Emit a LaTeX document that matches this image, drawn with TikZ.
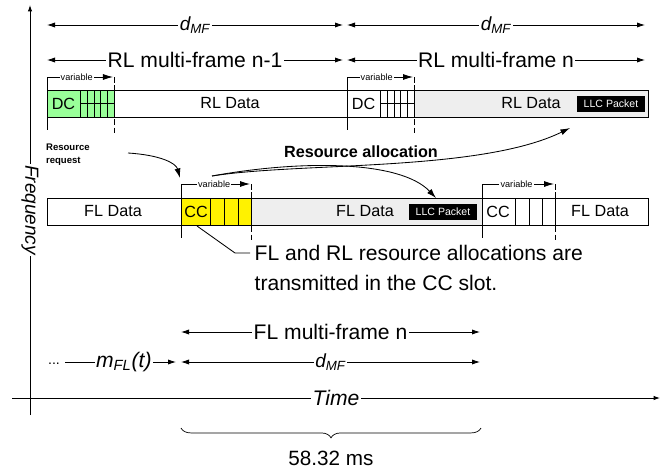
\documentclass[tikz,border=0pt]{standalone}
\usepackage{fontspec}
\setmainfont{Liberation Sans}
\usetikzlibrary{arrows.meta,decorations.pathreplacing}

\definecolor{dcgreen}{RGB}{153,255,153}
\definecolor{datagray}{RGB}{238,238,238}

\begin{document}
\begin{tikzpicture}[x=0.025cm, y=-0.025cm, line width=0.6pt,
    big/.style={font=\fontsize{15}{17}\selectfont},
    mid/.style={font=\fontsize{11.5}{13}\selectfont},
    sym/.style={font=\fontsize{13.5}{15}\selectfont\itshape},
    gap/.style={fill=white, inner sep=1pt},
    tag/.style={font=\fontsize{6.5}{7.5}\selectfont, fill=white, inner sep=0.8pt},
    llc/.style={fill=black, text=white, font=\fontsize{7.5}{9}\selectfont,
                minimum width=1.7cm, minimum height=0.4cm, inner sep=0pt},
    dim/.style={{Latex[length=2mm,width=1.3mm]}-{Latex[length=2mm,width=1.3mm]}},
    tip/.style={-{Latex[length=2.4mm,width=1.5mm]}}]
    \useasboundingbox (0,0) rectangle (664,475);

    % Add axes
    \draw[-{Latex[length=1.6mm,width=1.1mm]}] (12,398) -- (660,398)
        node[gap, midway, font=\fontsize{15}{17}\selectfont\itshape] (time) {Time};
    \draw[-{Latex[length=1.6mm,width=1.1mm]}] (30,415) -- (30,5)
        node[gap, midway, rotate=-90, font=\fontsize{13.5}{16}\selectfont\itshape] (freq) {Frequency};

    % multi-frame lengths on top
    \draw[dim] (47,25) -- (343,25) node[gap, midway, sym] (dmf1) {d\textsubscript{MF}};
    \draw[dim] (347,25) -- (645,25) node[gap, midway, sym] (dmf2) {d\textsubscript{MF}};
    \draw[dim] (47,60) -- (343,60) node[gap, midway, big] (rlmf1) {RL multi-frame n-1};
    \draw[dim] (347,60) -- (645,60) node[gap, midway, big] (rlmf2) {RL multi-frame n};

    % RL frame
    \fill[dcgreen] (47,90) rectangle (114,117);
    \fill[datagray] (414,90) rectangle (648,117);
    \draw (47,90) rectangle (648,117);
    \foreach \o in {0,300} {
        \foreach \x in {80.7,87.3,94,100.7,107.3,114}
            \draw (\x+\o,90) -- (\x+\o,117);
        \draw (80.7+\o,103.5) -- (114+\o,103.5);
        % variable part of the frame
        \draw (47+\o,77) -- (47+\o,130);
        \draw[dash pattern=on 4pt off 2pt] (114+\o,77) -- (114+\o,133);
        \draw[-{Latex[length=2.5mm,width=1.5mm]}] (47+\o,77) -- (113+\o,77)
            node[tag, pos=0.45] {variable};
    }
    \node[mid] (dc1) at (63.5,103.5) {DC};
    \node[mid] (dc2) at (363.5,103.5) {DC};
    \node[mid] (rldata1) at (230,103.5) {RL Data};
    \node[mid] (rldata2) at (531,103.5) {RL Data};
    \node[llc] (llcrl) at (611,104) {LLC Packet};

    % FL frame
    \fill[yellow] (181,198) rectangle (251,225);
    \fill[datagray] (251,198) rectangle (482,225);
    \draw (47,198) rectangle (648,225);
    \foreach \x in {181,210.7,224.7,238,251,482,515,529,542,555}
        \draw (\x,198) -- (\x,225);
    \foreach \a/\b in {181/251,482/555} {
        \draw (\a,184) -- (\a,238);
        \draw[dash pattern=on 4pt off 2pt] (\b,184) -- (\b,240);
        \draw[-{Latex[length=2.5mm,width=1.5mm]}] (\a,184) -- (\b-1,184)
            node[tag, pos=0.48] {variable};
    }
    \node[mid] (fldata1) at (113,211.5) {FL Data};
    \node[mid] (cc1) at (196,211.5) {CC};
    \node[mid] (fldata2) at (365,211.5) {FL Data};
    \node[llc] (llcfl) at (443,212) {LLC Packet};
    \node[mid] (cc2) at (498,211.5) {CC};
    \node[mid] (fldata3) at (600,211.5) {FL Data};

    % request and allocation arrows
    \node[align=left, anchor=north west, font=\fontsize{6.8}{9.2}\selectfont\bfseries] (req) at (41,139) {Resource\\request};
    \node[font=\fontsize{11.5}{13}\selectfont\bfseries] (alloctxt) at (361,152) {Resource allocation};
    \coordinate (reqstart) at (128,153);
    \coordinate (alloc) at (212,176);
    \draw[tip] (reqstart) .. controls (160,155) and (176,163) .. (180,178);
    \draw[tip] (alloc) .. controls (300,162) and (480,172) .. (570,128);
    \draw[tip] (alloc) .. controls (300,160) and (400,160) .. (436,198);

    % note on the CC slot
    \node[big, anchor=base west, inner sep=3pt] (note1) at (250,260) {FL and RL resource allocations are};
    \node[big, anchor=base west, inner sep=3pt] (note2) at (250,290) {transmitted in the CC slot.};
    \draw (197,226) -- (235,253) -- (note1.west |- 0,253);

    % FL multi-frame
    \draw[dim] (181,332) -- (480,332) node[gap, midway, big] (flmf) {FL multi-frame n};
    \draw[dim] (181,362) -- (480,362) node[gap, midway, sym] (dmf3) {d\textsubscript{MF}};
    \node[font=\fontsize{10}{12}\selectfont, anchor=base] (dots) at (54,364) {...};
    \draw[-{Latex[length=2mm,width=1.3mm]}] (65,362) -- (176,362)
        node[gap, pos=0.53, font=\fontsize{15}{17}\selectfont\itshape] (mfl) {m\textsubscript{FL}(t)};

    % brace with the frame duration
    \draw[decorate, decoration={brace, amplitude=7pt, mirror}, line width=0.5pt] (181,428) -- (481,428);
    \node[font=\fontsize{14.7}{17}\selectfont] (ms) at (331,458) {58.32 ms};

\end{tikzpicture}
\end{document}
